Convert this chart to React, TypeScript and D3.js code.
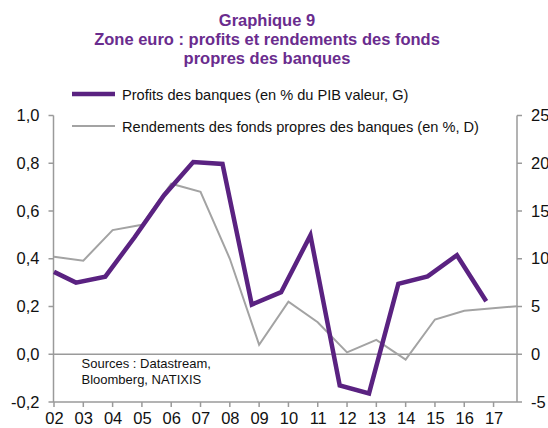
import React from "react";
import * as d3 from "d3";

const titleLines = ["Graphique 9", "Zone euro : profits et rendements des fonds", "propres des banques"];
const legendLabels = ["Profits des banques (en % du PIB valeur, G)", "Rendements des fonds propres des banques (en %, D)"];
const sourceLines = ["Sources : Datastream,", "Bloomberg, NATIXIS"];

const yearTicks = [2002, 2003, 2004, 2005, 2006, 2007, 2008, 2009, 2010, 2011, 2012, 2013, 2014, 2015, 2016, 2017];
const leftTicks = [-0.2, 0, 0.2, 0.4, 0.6, 0.8, 1.0];
const rightTicks = [-5, 0, 5, 10, 15, 20, 25];

const profitX = [2002.0, 2002.75, 2003.75, 2004.75, 2005.75, 2006.75, 2007.75, 2008.75, 2009.75, 2010.75, 2011.75, 2012.75, 2013.75, 2014.75, 2015.75, 2016.75];
const profitY = [0.345, 0.30, 0.325, 0.49, 0.665, 0.805, 0.797, 0.208, 0.26, 0.498, -0.131, -0.164, 0.295, 0.326, 0.415, 0.222];

const roeX = [2002, 2003, 2004, 2005, 2006, 2007, 2008, 2009, 2010, 2011, 2012, 2013, 2014, 2015, 2016, 2017.8];
const roeY = [10.2, 9.8, 13.0, 13.56, 17.86, 17.0, 10.0, 1.0, 5.5, 3.35, 0.2, 1.5, -0.56, 3.64, 4.55, 5.03];

const W = 548, H = 428;
const X0 = 53.5, X1 = 517;
const Y0 = 115.5, Y1 = 402;
const purple = "#5a2281";
const titleColor = "#6a2c8e";
const axisColor = "#9a9a9a";
const greyLine = "#a3a3a3";
const font = "'Liberation Sans', Arial, sans-serif";

export default function App() {
  const x = d3.scaleLinear().domain([2002, 2017.8]).range([X0 + 0.5, X1]);
  const yL = d3.scaleLinear().domain([-0.2, 1.0]).range([Y1, Y0]);
  const yR = d3.scaleLinear().domain([-5, 25]).range([Y1, Y0]);

  const profitLine = d3.line<number>().x((_, i) => x(profitX[i])).y((d) => yL(d));
  const roeLine = d3.line<number>().x((_, i) => x(roeX[i])).y((d) => yR(d));
  const fmt = (v: number) => v.toFixed(1).replace(".", ",");

  return (
    <svg width={W} height={H} style={{ position: "absolute", left: 0, top: 0, background: "#fff" }} fontFamily={font}>
      {titleLines.map((t, i) => (
        <text key={i} x={267} y={26 + i * 18.8} textAnchor="middle" fontSize={16.5} fontWeight="bold" fill={titleColor}>{t}</text>
      ))}
      {/* legend */}
      <line x1={72} x2={115} y1={94} y2={94} stroke={purple} strokeWidth={4.5} />
      <text x={122} y={99.5} fontSize={14.6} fill="#111">{legendLabels[0]}</text>
      <line x1={72} x2={115} y1={126} y2={126} stroke={greyLine} strokeWidth={2} />
      <text x={122} y={131.5} fontSize={14.6} fill="#111">{legendLabels[1]}</text>

      {/* zero line */}
      <line x1={X0} x2={X1} y1={yL(0)} y2={yL(0)} stroke={axisColor} strokeWidth={1.5} />
      {/* left axis */}
      <line x1={X0} x2={X0} y1={Y0} y2={Y1} stroke={axisColor} strokeWidth={1.5} />
      {leftTicks.map((t) => (
        <g key={t}>
          <line x1={X0 - 5} x2={X0} y1={yL(t)} y2={yL(t)} stroke={axisColor} strokeWidth={1.5} />
          <text x={39.5} y={yL(t) + 5.5} textAnchor="end" fontSize={16.5} fill="#111">{fmt(t)}</text>
        </g>
      ))}
      {/* right axis */}
      <line x1={X1} x2={X1} y1={Y0} y2={Y1} stroke={axisColor} strokeWidth={1.5} />
      {rightTicks.map((t) => (
        <g key={t}>
          <line x1={X1} x2={X1 + 5} y1={yR(t)} y2={yR(t)} stroke={axisColor} strokeWidth={1.5} />
          <text x={531} y={yR(t) + 5.5} textAnchor="start" fontSize={16.5} fill="#111">{t}</text>
        </g>
      ))}
      {/* bottom axis */}
      <line x1={X0} x2={X1} y1={Y1} y2={Y1} stroke={axisColor} strokeWidth={1.5} />
      {yearTicks.map((t) => (
        <g key={t}>
          <line x1={x(t)} x2={x(t)} y1={Y1} y2={Y1 + 5} stroke={axisColor} strokeWidth={1.5} />
          <text x={x(t) + 0.5} y={424} textAnchor="middle" fontSize={16.5} fill="#111">{String(t % 100).padStart(2, "0")}</text>
        </g>
      ))}

      {/* sources */}
      {sourceLines.map((s, i) => (
        <text key={i} x={81.5} y={367.5 + i * 16} fontSize={13} fill="#111">{s}</text>
      ))}

      <path d={roeLine(roeY) || ""} fill="none" stroke={greyLine} strokeWidth={2} strokeLinejoin="miter" />
      <path d={profitLine(profitY) || ""} fill="none" stroke={purple} strokeWidth={4.5} strokeLinejoin="miter" />
    </svg>
  );
}
